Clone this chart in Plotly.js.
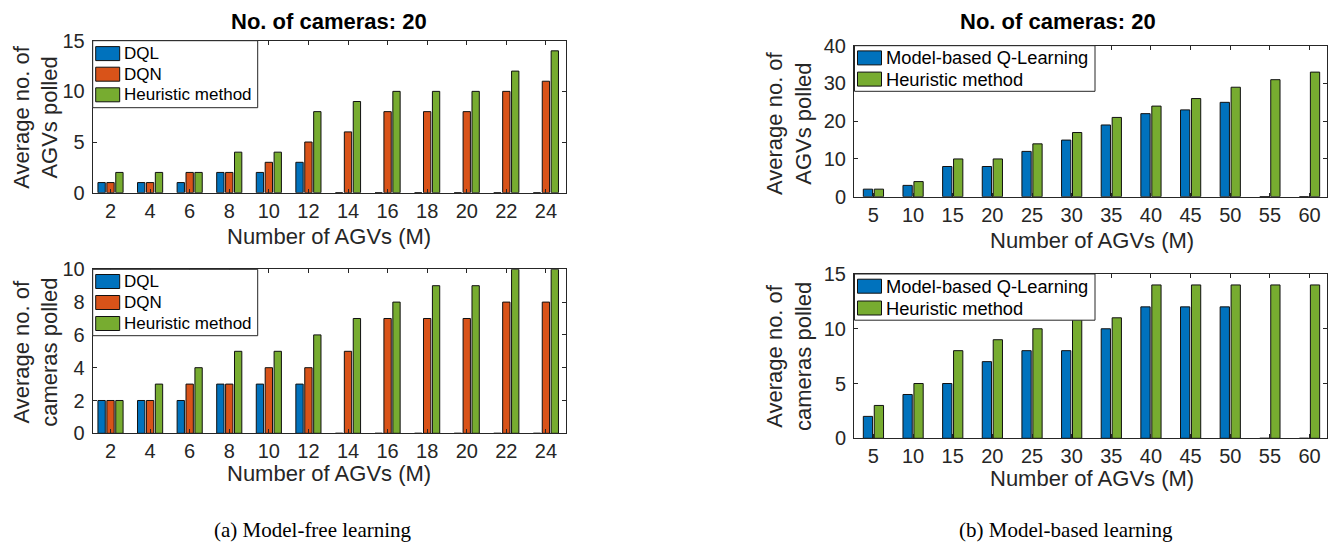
<!DOCTYPE html>
<html><head><meta charset="utf-8">
<script src="https://cdn.plot.ly/plotly-3.0.1.min.js"></script>
<style>html,body{margin:0;padding:0;background:#fff}#chart{width:1328px;height:542px}</style>
</head><body><div id="chart"></div>
<script>
// ---- data ----
const agvsA = [2, 4, 6, 8, 10, 12, 14, 16, 18, 20, 22, 24];
const dqlAgvs = [1, 1, 1, 2, 2, 3, 0, 0, 0, 0, 0, 0];
const dqnAgvs = [1, 1, 2, 2, 3, 5, 6, 8, 8, 8, 10, 11];
const heurAgvsA = [2, 2, 2, 4, 4, 8, 9, 10, 10, 10, 12, 14];
const dqlCams = [2, 2, 2, 3, 3, 3, 0, 0, 0, 0, 0, 0];
const dqnCams = [2, 2, 3, 3, 4, 4, 5, 7, 7, 7, 8, 8];
const heurCamsA = [2, 3, 4, 5, 5, 6, 7, 8, 9, 9, 10, 10];

const agvsB = [5, 10, 15, 20, 25, 30, 35, 40, 45, 50, 55, 60];
const mbqlAgvs = [2, 3, 8, 8, 12, 15, 19, 22, 23, 25, 0, 0];
const heurAgvsB = [2, 4, 10, 10, 14, 17, 21, 24, 26, 29, 31, 33];
const mbqlCams = [2, 4, 5, 7, 8, 8, 10, 12, 12, 12, 0, 0];
const heurCamsB = [3, 5, 8, 9, 10, 11, 11, 14, 14, 14, 14, 14];

const names = ['DQL', 'DQN', 'Heuristic method', 'Model-based Q-Learning'];
const titleText = 'No. of cameras: 20';
const xTitle = 'Number of AGVs (M)';
const yTitleAgvs = 'Average no. of<br>AGVs polled';
const yTitleCams = 'Average no. of<br>cameras polled';
const captions = ['(a) Model-free learning', '(b) Model-based learning'];

// ---- style ----
const W = 1328, H = 542;
const BLUE = '#0072BD', ORANGE = '#D95319', GREEN = '#77AC30';
const FONT = 'Liberation Sans, Arial, sans-serif';
const SERIF = 'Liberation Serif, Times New Roman, serif';
const px = v => v / W, py = v => 1 - v / H;

function bar(x, y, name, color, xa, ya, width, offset) {
  return {type: 'bar', x: x, y: y, name: name, xaxis: xa, yaxis: ya,
    width: width, offset: offset, showlegend: false,
    marker: {color: color, line: {color: '#111', width: 1}}};
}
const wA = 0.37, wB = 1.17;
const traces = [
  bar(agvsA, dqlAgvs, names[0], BLUE, 'x', 'y', wA, -0.45 - wA / 2),
  bar(agvsA, dqnAgvs, names[1], ORANGE, 'x', 'y', wA, -wA / 2),
  bar(agvsA, heurAgvsA, names[2], GREEN, 'x', 'y', wA, 0.45 - wA / 2),
  bar(agvsA, dqlCams, names[0], BLUE, 'x2', 'y2', wA, -0.45 - wA / 2),
  bar(agvsA, dqnCams, names[1], ORANGE, 'x2', 'y2', wA, -wA / 2),
  bar(agvsA, heurCamsA, names[2], GREEN, 'x2', 'y2', wA, 0.45 - wA / 2),
  bar(agvsB, mbqlAgvs, names[3], BLUE, 'x3', 'y3', wB, -0.69 - wB / 2),
  bar(agvsB, heurAgvsB, names[2], GREEN, 'x3', 'y3', wB, 0.69 - wB / 2),
  bar(agvsB, mbqlCams, names[3], BLUE, 'x4', 'y4', wB, -0.69 - wB / 2),
  bar(agvsB, heurCamsB, names[2], GREEN, 'x4', 'y4', wB, 0.69 - wB / 2)
];

function axis(domain, range, extra) {
  return Object.assign({domain: domain, range: range, showline: true, mirror: 'ticks',
    linecolor: '#262626', linewidth: 1, ticks: 'inside', ticklen: 4, tickcolor: '#262626',
    showgrid: false, zeroline: false, fixedrange: true,
    tickfont: {family: FONT, size: 20, color: '#262626'}}, extra);
}
const xdL = [px(92.7), px(565.7)], xdR = [px(854), px(1327)];
const ydTL = [py(192.7), py(40.7)], ydBL = [py(433.3), py(269.3)];
const ydTR = [py(196.7), py(45.7)], ydBR = [py(438.3), py(274)];

function ann(text, x, y, size, opts) {
  return Object.assign({text: text, x: px(x), y: py(y), xref: 'paper', yref: 'paper',
    xanchor: 'center', yanchor: 'middle', showarrow: false,
    font: {family: FONT, size: size, color: '#262626'}}, opts || {});
}

// custom MATLAB-style legends (box + swatches + labels)
const shapes = [], annotations = [];
function legendBox(x0, y0, w, firstRow, step, entries, fsize) {
  const h = firstRow * 2 + step * (entries.length - 1);
  shapes.push({type: 'rect', xref: 'paper', yref: 'paper', layer: 'above',
    x0: px(x0), x1: px(x0 + w), y0: py(y0 + h), y1: py(y0),
    fillcolor: '#fff', line: {color: '#262626', width: 1}});
  entries.forEach((e, i) => {
    const cy = y0 + firstRow + i * step;
    shapes.push({type: 'rect', xref: 'paper', yref: 'paper', layer: 'above',
      x0: px(x0 + 3), x1: px(x0 + 27), y0: py(cy + 7), y1: py(cy - 7),
      fillcolor: e[1], line: {color: '#111', width: 1}});
    annotations.push({text: e[0], x: px(x0 + 29.5), y: py(cy), xref: 'paper', yref: 'paper',
      xanchor: 'left', yanchor: 'middle', showarrow: false,
      font: {family: FONT, size: fsize, color: '#000'}});
  });
}
const entriesA = [[names[0], BLUE], [names[1], ORANGE], [names[2], GREEN]];
const entriesB = [[names[3], BLUE], [names[2], GREEN]];
legendBox(92.7, 40.7, 165, 12.9, 20.6, entriesA, 17);
legendBox(92.7, 269.3, 165, 12.2, 21, entriesA, 17);
legendBox(854.5, 45.7, 240.5, 12.2, 21.2, entriesB, 18.3);
legendBox(854.5, 274, 240.5, 12.2, 21.8, entriesB, 18.3);

annotations.push(
  ann('<b>' + titleText + '</b>', 328.8, 21, 22, {font: {family: FONT, size: 22, color: '#000'}}),
  ann('<b>' + titleText + '</b>', 1058.3, 21, 22, {font: {family: FONT, size: 22, color: '#000'}}),
  ann(xTitle, 329, 236.7, 22),
  ann(xTitle, 329, 473.3, 22),
  ann(xTitle, 1092, 240, 22),
  ann(xTitle, 1092, 478, 22),
  ann(yTitleAgvs, 35.8, 117, 22, {textangle: -90}),
  ann(yTitleCams, 35.8, 352, 22, {textangle: -90}),
  ann(yTitleAgvs, 789, 123, 22, {textangle: -90}),
  ann(yTitleCams, 789, 356, 22, {textangle: -90}),
  ann(captions[0], 312.5, 529.5, 21, {font: {family: SERIF, size: 21, color: '#000'}}),
  ann(captions[1], 1066, 529.5, 21, {font: {family: SERIF, size: 21, color: '#000'}})
);

const layout = {
  width: W, height: H, margin: {l: 0, r: 0, t: 0, b: 0},
  paper_bgcolor: '#fff', plot_bgcolor: '#fff', barmode: 'overlay', showlegend: false,
  xaxis: axis(xdL, [1.1, 25], {anchor: 'y', tickvals: agvsA, ticklabelstandoff: 0}),
  yaxis: axis(ydTL, [0, 15], {anchor: 'x', dtick: 5, ticklabelstandoff: 3}),
  xaxis2: axis(xdL, [1.1, 25], {anchor: 'y2', tickvals: agvsA, ticklabelstandoff: 0}),
  yaxis2: axis(ydBL, [0, 10], {anchor: 'x2', dtick: 2, ticklabelstandoff: 3}),
  xaxis3: axis(xdR, [2.55, 62.2], {anchor: 'y3', tickvals: agvsB, ticklabelstandoff: 0}),
  yaxis3: axis(ydTR, [0, 40], {anchor: 'x3', dtick: 10, ticklabelstandoff: 3}),
  xaxis4: axis(xdR, [2.55, 62.2], {anchor: 'y4', tickvals: agvsB, ticklabelstandoff: 0}),
  yaxis4: axis(ydBR, [0, 15], {anchor: 'x4', dtick: 5, ticklabelstandoff: 3}),
  shapes: shapes,
  annotations: annotations
};
Plotly.newPlot('chart', traces, layout, {displayModeBar: false, staticPlot: true});
</script>
</body></html>
